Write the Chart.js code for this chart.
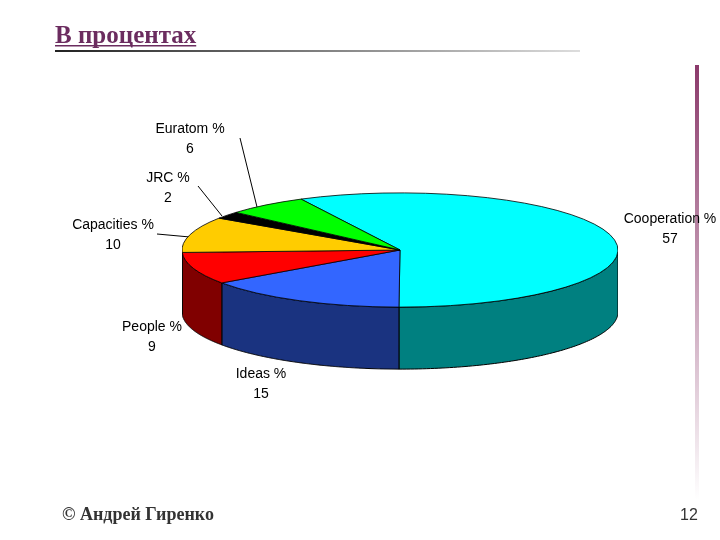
<!DOCTYPE html>
<html><head><meta charset="utf-8">
<script src="https://cdn.jsdelivr.net/npm/chart.js@4/dist/chart.umd.min.js"></script>
<style>
body{margin:0;width:720px;height:540px;background:#fff;position:relative;overflow:hidden}
#deco{position:absolute;left:0;top:0}
#wrap{position:absolute;left:182px;top:32px;width:436px;height:436px}
</style></head><body>
<canvas id="deco" width="720" height="540"></canvas>
<div id="wrap"><canvas id="c"></canvas></div>
<script>
const categories=["Cooperation %","Ideas %","People %","Capacities %","JRC %","Euratom %"];
const values=[57,15,9,10,2,6];
const topColors=["#00FFFF","#3366FF","#FF0000","#FFCC00","#000000","#00FF00"];
const sideColors=["#008080","#1A3380","#800000","#806600","#000000","#008000"];

const d=document.getElementById('deco').getContext('2d');
d.font='bold 25px "Liberation Serif"';d.fillStyle='#6B2C5F';d.fillText('В процентах',55,43);
const tw=d.measureText('В процентах').width;d.fillRect(55,45,tw,1.5);
let g=d.createLinearGradient(55,0,580,0);g.addColorStop(0,'#222');g.addColorStop(1,'#ddd');
d.fillStyle=g;d.fillRect(55,50,525,2);
g=d.createLinearGradient(0,65,0,500);g.addColorStop(0,'#8B3A6B');g.addColorStop(1,'#fff');
d.fillStyle=g;d.fillRect(695,65,4,435);
d.fillStyle='#333';d.font='bold 18px "Liberation Serif"';d.fillText('© Андрей Гиренко',62,520);
d.font='16px "Liberation Sans"';d.fillText('12',680,520);

const K=0.262, DEPTH=62;
const pie3d={id:'pie3d',beforeDatasetsDraw(chart){
  const ctx=chart.ctx, arcs=chart.getDatasetMeta(0).data;
  arcs.forEach((a,i)=>{
    const {x,y,startAngle:s,endAngle:e,outerRadius:r}=a.getProps(['x','y','startAngle','endAngle','outerRadius']);
    const pts=[];
    for(let t=s;t<=e+1e-9;t+=(e-s)/200){ if(Math.sin(t)>=-1e-6) pts.push(t); }
    if(pts.length<2) return;
    ctx.beginPath();
    pts.forEach((t,j)=>{const px=x+r*Math.cos(t),py=y+r*K*Math.sin(t);j?ctx.lineTo(px,py):ctx.moveTo(px,py);});
    for(let j=pts.length-1;j>=0;j--){const t=pts[j];ctx.lineTo(x+r*Math.cos(t),y+r*K*Math.sin(t)+DEPTH);}
    ctx.closePath();ctx.fillStyle=sideColors[i];ctx.fill();ctx.strokeStyle='#000';ctx.lineWidth=1;ctx.stroke();
  });
  arcs.forEach((a,i)=>{
    const {x,y,startAngle:s,endAngle:e,outerRadius:r}=a.getProps(['x','y','startAngle','endAngle','outerRadius']);
    ctx.save();ctx.translate(x,y);ctx.scale(1,K);
    ctx.beginPath();ctx.moveTo(0,0);ctx.arc(0,0,r,s,e);ctx.closePath();ctx.restore();
    ctx.fillStyle=topColors[i];ctx.fill();ctx.strokeStyle='#000';ctx.lineWidth=0.8;ctx.stroke();
  });
  return false;
}};
new Chart(document.getElementById('c'),{type:'pie',
 data:{labels:categories,datasets:[{data:values,backgroundColor:topColors,borderWidth:0}]},
 options:{responsive:true,maintainAspectRatio:false,animation:false,rotation:-27,
  layout:{padding:0},plugins:{legend:{display:false},tooltip:{enabled:false}}},
 plugins:[pie3d]});

const labelPos=[[670,218],[261,373],[152,326],[113,224],[168,177],[190,128]];
d.font='14px "Liberation Sans"';d.fillStyle='#000';d.textAlign='center';
categories.forEach((c,i)=>{const [lx,ly]=labelPos[i];d.fillText(c,lx,ly+5);d.fillText(String(values[i]),lx,ly+25);});
d.strokeStyle='#000';d.lineWidth=1;
[[[240,138],[257,207]],[[198,186],[222,216]],[[157,234],[190,237]]].forEach(([p,q])=>{d.beginPath();d.moveTo(p[0],p[1]);d.lineTo(q[0],q[1]);d.stroke();});
</script></body></html>
